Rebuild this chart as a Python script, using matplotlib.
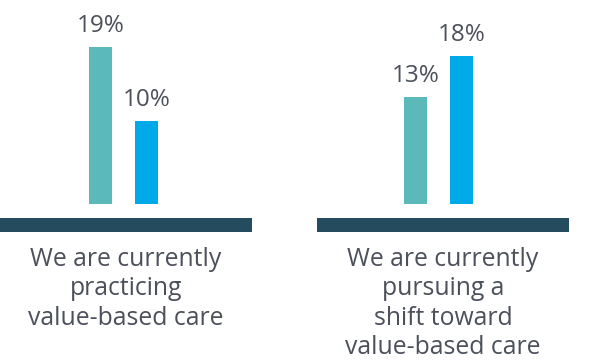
import matplotlib
matplotlib.use('Agg')
import matplotlib.pyplot as plt

categories = ['We are currently\npracticing\nvalue-based care',
              'We are currently\npursuing a\nshift toward\nvalue-based care']
series_a = [19, 13]
series_b = [10, 18]

teal = '#5bb9ba'
blue = '#00aae8'
base = '#254b5e'
txt = '#4b505b'

plt.rcParams['font.family'] = ['Open Sans', 'DejaVu Sans']

fig = plt.figure(figsize=(6.15, 3.6), dpi=100)
W, H = 615, 360
# axes boxes in pixels: left, width
boxes = [(0, 252), (317, 252)]
xlims = [(-2.185, 3.293), (-2.141, 3.337)]

for i, cat in enumerate(categories):
    left, width = boxes[i]
    ax = fig.add_axes([left / W, (H - 225) / H, width / W, 225 / H])
    vals = [series_a[i], series_b[i]]
    ax.bar([0, 1], vals, width=0.5, color=[teal, blue])
    ax.set_xlim(*xlims[i])
    ax.set_ylim(-2.55, 24.73)
    for x, v in zip([0, 1], vals):
        ax.annotate(f'{v}%', (x, v), xytext=(0, 10.8), textcoords='offset points',
                    ha='center', va='baseline', fontsize=17.5, color=txt)
    for s in ['top', 'left', 'right']:
        ax.spines[s].set_visible(False)
    sp = ax.spines['bottom']
    sp.set_linewidth(10.08)
    sp.set_color(base)
    sp.set_capstyle('butt')
    ax.set_xticks([])
    ax.set_yticks([])
    ax.patch.set_alpha(0)
    ax.annotate(cat, (0.5, 0), xycoords='axes fraction', xytext=(0, -15.5),
                textcoords='offset points', ha='center', va='top',
                fontsize=17.8, color=txt, linespacing=1.24, annotation_clip=False)

fig.savefig('out.png', dpi=100)
